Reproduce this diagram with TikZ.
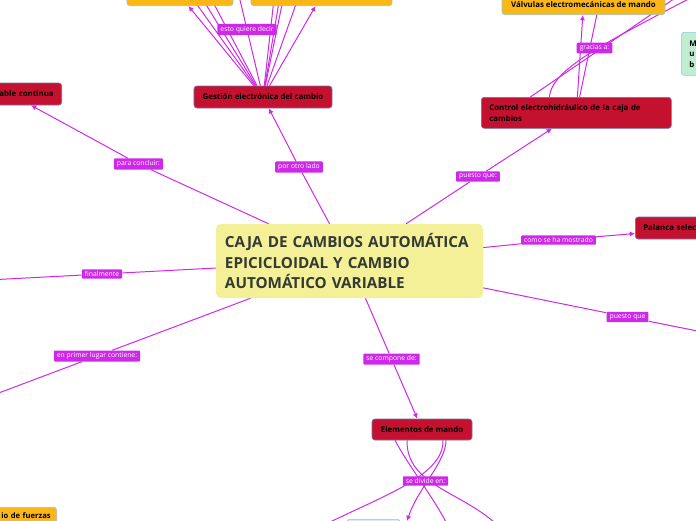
\documentclass[tikz,border=0pt]{standalone}
\usepackage{fontspec}
\setmainfont{Open Sans}
\usepackage{tikz}
\usetikzlibrary{positioning,calc,backgrounds,arrows.meta}
\definecolor{linkmag}{RGB}{206,40,232}
\definecolor{titleyel}{RGB}{243,240,152}
\definecolor{titletxt}{RGB}{52,58,52}
\definecolor{topicred}{RGB}{197,17,48}
\definecolor{topicedge}{RGB}{112,112,170}
\definecolor{suborange}{RGB}{251,183,22}
\definecolor{subedge}{RGB}{150,195,205}
\definecolor{notegreen}{RGB}{192,236,210}
\definecolor{noteedge}{RGB}{135,205,220}
\definecolor{leafblue}{RGB}{214,236,250}
\tikzset{
  central/.style = {fill=titleyel, rounded corners=4pt, text=titletxt, align=left,
                    font=\fontsize{13}{17.5}\selectfont\bfseries,
                    inner xsep=0.27cm, text width=7.47cm, minimum height=2.22cm},
  topic/.style   = {draw=topicedge, fill=topicred, rounded corners=2.5pt, line width=0.5pt,
                    font=\fontsize{6.7}{9}\selectfont\bfseries, text=black, inner xsep=0.24cm},
  sub/.style     = {draw=subedge, fill=suborange, rounded corners=2.5pt, line width=0.5pt,
                    font=\fontsize{6.7}{9}\selectfont\bfseries, text=black, inner xsep=0.24cm},
  note/.style    = {draw=noteedge, fill=notegreen, rounded corners=2.5pt, line width=0.5pt,
                    font=\fontsize{6.7}{9}\selectfont\bfseries, text=black, inner xsep=0.24cm},
  leaf/.style    = {draw=subedge, fill=leafblue, rounded corners=2.5pt, line width=0.5pt},
  tag/.style     = {fill=linkmag, text=white, rounded corners=0.8pt, inner xsep=2.6pt, inner ysep=1.8pt,
                    font=\fontsize{5.8}{6.5}\selectfont},
  lnk/.style     = {draw=linkmag, line width=0.85pt},
  arr/.style     = {-{Latex[length=4.5pt,width=4.5pt]}},
}
\begin{document}
\begin{tikzpicture}[x=0.03cm,y=-0.03cm]
  \useasboundingbox (0,0) rectangle (696,520);
  \clip (0,0) rectangle (696,520);

  % central topic
  \node[central] (core) at (349.5,261) {CAJA DE CAMBIOS AUTOMÁTICA\\EPICICLOIDAL Y CAMBIO\\AUTOMÁTICO VARIABLE};

  % main branches
  \node[topic, minimum width=4.14cm, minimum height=0.66cm] (gest) at (263,97) {Gestión electrónica del cambio};
  \node[topic, anchor=east, text width=2.6cm, align=right, minimum height=0.66cm] (cont) at (62,94) {able continua};
  \node[topic, anchor=north west, text width=5.22cm, align=left, minimum height=0.93cm] (ctrl) at (481,97) {Control electrohidráulico de la caja de\\cambios};
  \node[topic, anchor=west, text width=3.4cm, align=left, minimum height=0.66cm] (pal) at (635,228) {Palanca selec};
  \node[topic, minimum width=3cm, minimum height=0.63cm] (elem) at (422,429.5) {Elementos de mando};

  % sub topics
  \node[sub, anchor=south, minimum width=3.18cm, minimum height=0.6cm] (ga) at (180,6) {};
  \node[sub, anchor=south, minimum width=4.23cm, minimum height=0.6cm] (gb) at (321.5,6) {};
  \node[sub, anchor=south, minimum width=4.89cm, minimum height=0.6cm] (valv) at (583.5,15) {Válvulas electromecánicas de mando};
  \node[note, anchor=north west, text width=2cm, align=left, minimum height=1.29cm] (mu) at (681,32) {M\\u\\b};
  \node[sub, anchor=north east, text width=2.5cm, align=right, minimum height=0.48cm, inner ysep=1pt,
        inner xsep=0.18cm, font=\fontsize{6.5}{8}\selectfont\bfseries] (fz) at (57,507) {io de fuerzas};
  \node[leaf, anchor=north, minimum width=1.6cm, minimum height=0.5cm] (lf) at (373.5,519) {};

  % link labels
  \node[tag] (tConcl) at (138.5,164) {para concluir:};
  \node[tag] (tOtro) at (299,167) {por otro lado};
  \node[tag] (tPq1) at (478,176.5) {puesto que:};
  \node[tag] (tMost) at (558.5,240) {como se ha mostrado};
  \node[tag] (tPq2) at (627.5,317) {puesto que};
  \node[tag] (tFin) at (102,274) {finalmente};
  \node[tag] (tPrim) at (97,356) {en primer lugar contiene:};
  \node[tag] (tComp) at (391.5,359) {se compone de:};
  \node[tag] (tDiv) at (425.5,481) {se divide en:};
  \node[tag] (tEsto) at (247,29.5) {esto quiere decir};
  \node[tag] (tGrac) at (594.5,48) {gracias a:};

  % free ends off the page
  \coordinate (offE) at (720,335.5);
  \coordinate (offW) at (-20,280.4);
  \coordinate (offSW) at (-20,400);
  \coordinate (g1) at (186.6,-10);
  \coordinate (g2) at (197,-10);
  \coordinate (g3) at (206.6,-10);
  \coordinate (g4) at (237.6,-10);
  \coordinate (g5) at (275,-10);
  \coordinate (g6) at (281,-10);
  \coordinate (g7) at (285,-10);
  \coordinate (g8) at (301,-10);
  \coordinate (c1) at (602,-10);
  \coordinate (c2) at (684,-8);
  \coordinate (c3) at (702,-8);
  \coordinate (e1) at (447,524);
  \coordinate (e2) at (407,521);
  \coordinate (e3) at (496,524);
  \coordinate (e4) at (326,524);

  \begin{scope}[on background layer]
    % from the central topic
    \draw[lnk, arr] (core) -- (tConcl) -- (cont);
    \draw[lnk, arr] (core) -- (tOtro) -- (gest);
    \draw[lnk, arr] (core) -- (tPq1) -- (ctrl);
    \draw[lnk, arr] (core) -- (tMost) -- (pal);
    \draw[lnk] (core) -- (tPq2) -- (offE);
    \draw[lnk] (core) -- (tFin) -- (offW);
    \draw[lnk] (core) -- (tPrim) -- (offSW);
    \draw[lnk, arr] (core) -- (tComp) -- (elem);

    % gestion
    \draw[lnk, arr] (gest) -- (ga);
    \draw[lnk, arr] (gest) -- (gb);
    \foreach \t in {g1,g2,g3,g5,g6,g7,g8}
      \draw[lnk] (gest) -- (\t);
    \draw[lnk] (gest) -- (tEsto) -- (g4);

    % control
    \draw[lnk, arr] (ctrl) -- (valv);
    \draw[lnk] (ctrl) -- (c1);
    \draw[lnk] ($(ctrl.north)+(-46,0)$) -- (c2);
    \draw[lnk] ($(ctrl.north)+(-27,0)$) .. controls (552,70) and (598,46) .. (c3);

    % elementos
    \draw[lnk] ($(elem.south)+(-27,0)$) .. controls (408,465) and (432,495) .. (e1);
    \draw[lnk, arr] ($(elem.south)+(24,0)$) .. controls (446,462) and (418,488) .. (e2);
    \draw[lnk] ($(elem.south)+(-15,0)$) .. controls (406,485) and (462,492) .. (e3);
    \draw[lnk] ($(elem.south)+(21,0)$) .. controls (444,475) and (385,495) .. (e4);
  \end{scope}
\end{tikzpicture}
\end{document}
